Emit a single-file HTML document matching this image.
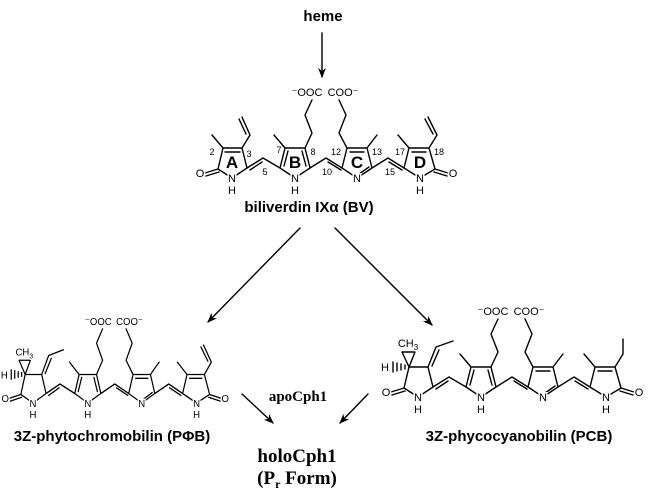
<!DOCTYPE html>
<html><head><meta charset="utf-8"><style>
html,body{margin:0;padding:0;background:#fff;}
svg{display:block;font-family:"Liberation Sans",Arial,sans-serif;}
.l{fill:none;stroke:#000;stroke-width:1.4;stroke-linejoin:round;stroke-linecap:round}
.t{font-size:11px;text-anchor:middle;paint-order:stroke;stroke:#fff;stroke-width:3px;fill:#000}
.n{font-size:9px;text-anchor:middle}
.rl{font-size:17px;font-weight:bold;text-anchor:middle}
.b{font-weight:bold;text-anchor:middle}
.s{font-family:"Liberation Serif",serif;font-weight:bold;text-anchor:middle}
</style></head><body>
<svg width="654" height="499" viewBox="0 0 654 499">
<defs>
<marker id="ar" markerWidth="10" markerHeight="8" refX="9" refY="4" orient="auto" markerUnits="userSpaceOnUse"><path d="M0,0 L10,4 L0,8 L3,4 Z" fill="#000"/></marker>
<g id="core">
<path class="l" d="M0,0 L-14,-9 L-9,-30 L10,-30 L15,-10 Z
M-14,-9 L-27,-5 M-13,-6 L-26,-2
M15,-10 L31,-20 L48,-10 M18,-8 L30,-16
M48,-10 L53,-30 L73,-30 L78,-10 L63,0 Z M52,-12 L56,-27 M70,-27 L74,-12
M53,-30 L42,-43 M73,-30 L80,-45 L73,-63 L80,-78
M78,-10 L94,-20 L110,-10 M96,-16 L109,-8
M110,-10 L115,-30 L135,-30 L140,-10 L125,0 Z M118,-26 L132,-26 M137,-11 L127,-4
M115,-30 L107,-45 L114,-63 L107,-78 M135,-30 L145,-43
M140,-10 L156,-20 L172,-10 M157,-16 L170,-8
M172,-10 L177,-30 L197,-30 L203,-9 L188,0 Z M180,-26 L194,-26
M203,-9 L216,-5 M202,-6 L215,-2 M177,-30 L166,-43"/>
</g>
<path id="vinylD" class="l" d="M197,-30 L205,-43 L196,-61 M201,-44 L193,-59"/>
<path id="ethylD" class="l" d="M197,-30 L205,-43 L205,-58"/>
<path id="ringAtop" class="l" d="M-7,-26 L8,-26 M-9,-30 L-20,-43 M10,-30 L18,-43 L10,-61 M14,-44 L7,-59"/>
<path id="ringAsp3" class="l" d="M-9,-30 L-16,-45 L-3,-45 Z M10,-30 L18,-50 L35,-56 M14,-31 L21,-47
M-13,-28 L-13,-32 M-17,-27 L-17,-33 M-21,-26 L-21,-34 M-25,-25 L-25,-35"/>
</defs>

<text x="323" y="21" class="b" font-size="15">heme</text>
<line x1="322" y1="33" x2="322" y2="77" class="l" marker-end="url(#ar)"/>

<!-- BV -->
<g transform="translate(232,178)">
<use href="#core"/><use href="#ringAtop"/><use href="#vinylD"/>
<text x="0" y="4" class="t">N</text><text x="0" y="16" class="t">H</text>
<text x="63" y="4" class="t">N</text><text x="63" y="16" class="t">H</text>
<text x="125" y="4" class="t">N</text>
<text x="188" y="4" class="t">N</text><text x="188" y="16" class="t">H</text>
<text x="-32" y="-1" class="t">O</text><text x="221" y="-1" class="t">O</text>
<text x="75" y="-82" class="t">⁻OOC</text><text x="111" y="-82" class="t">COO⁻</text>
<text x="0" y="-10" class="rl">A</text><text x="63" y="-10" class="rl">B</text>
<text x="125" y="-10" class="rl">C</text><text x="188" y="-10" class="rl">D</text>
<text x="-20" y="-23" class="n">2</text><text x="17" y="-21" class="n">3</text>
<text x="33" y="-3" class="n">5</text><text x="47" y="-25" class="n">7</text>
<text x="81" y="-23" class="n">8</text><text x="95" y="-3" class="n">10</text>
<text x="104" y="-23" class="n">12</text><text x="145" y="-23" class="n">13</text>
<text x="158" y="-3" class="n">15</text><text x="168" y="-23" class="n">17</text>
<text x="207" y="-23" class="n">18</text>
</g>
<text x="309" y="212" class="b" font-size="15">biliverdin IXα (BV)</text>

<line x1="300" y1="228" x2="208" y2="322" class="l" marker-end="url(#ar)"/>
<line x1="335" y1="228" x2="432" y2="325" class="l" marker-end="url(#ar)"/>

<!-- PΦB -->
<g transform="translate(33,403) scale(0.87,0.95)">
<use href="#core"/><use href="#ringAsp3"/><use href="#vinylD"/>
<text x="0" y="4" class="t">N</text><text x="0" y="16" class="t">H</text>
<text x="63" y="4" class="t">N</text><text x="63" y="16" class="t">H</text>
<text x="125" y="4" class="t">N</text>
<text x="188" y="4" class="t">N</text><text x="188" y="16" class="t">H</text>
<text x="-32" y="-1" class="t">O</text><text x="221" y="-1" class="t">O</text>
<text x="75" y="-82" class="t">⁻OOC</text><text x="111" y="-82" class="t">COO⁻</text>
<text x="-10" y="-50" class="t">CH<tspan font-size="8" dy="3">3</tspan></text>
<text x="-33" y="-26" class="t">H</text>
</g>
<text x="112" y="441" class="b" font-size="15">3Z-phytochromobilin (PΦB)</text>

<!-- PCB -->
<g transform="translate(418,397)">
<use href="#core"/><use href="#ringAsp3"/><use href="#ethylD"/>
<text x="0" y="4" class="t">N</text><text x="0" y="16" class="t">H</text>
<text x="63" y="4" class="t">N</text><text x="63" y="16" class="t">H</text>
<text x="125" y="4" class="t">N</text>
<text x="188" y="4" class="t">N</text><text x="188" y="16" class="t">H</text>
<text x="-32" y="-1" class="t">O</text><text x="221" y="-1" class="t">O</text>
<text x="75" y="-82" class="t">⁻OOC</text><text x="111" y="-82" class="t">COO⁻</text>
<text x="-10" y="-50" class="t">CH<tspan font-size="8" dy="3">3</tspan></text>
<text x="-33" y="-26" class="t">H</text>
</g>
<text x="519" y="441" class="b" font-size="15">3Z-phycocyanobilin (PCB)</text>

<text x="298" y="401" class="s" font-size="15">apoCph1</text>
<line x1="242" y1="394" x2="273" y2="423" class="l" marker-end="url(#ar)"/>
<line x1="368" y1="394" x2="340" y2="423" class="l" marker-end="url(#ar)"/>
<text x="297" y="462" class="s" font-size="19">holoCph1</text>
<text x="297" y="484" class="s" font-size="19">(P<tspan font-size="12" dy="4">r</tspan><tspan dy="-4"> Form)</tspan></text>
</svg>
</body></html>
